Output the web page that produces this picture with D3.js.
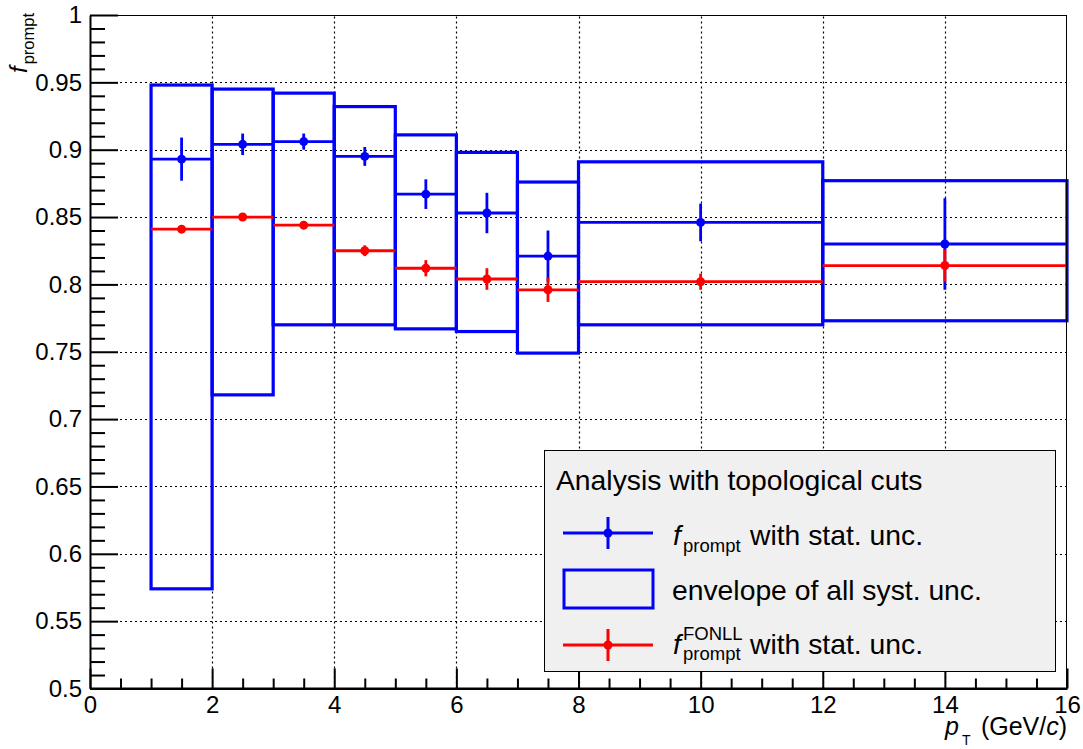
<!DOCTYPE html>
<html>
<head>
<meta charset="utf-8">
<script src="https://cdn.jsdelivr.net/npm/d3@7"></script>
<style>
  html, body { margin: 0; padding: 0; background: #fff; }
  svg { display: block; }
  text { font-family: "Liberation Sans", Arial, Helvetica, sans-serif; fill: #000; }
</style>
</head>
<body>
<svg id="chart" width="1083" height="749"></svg>
<script>
// pT bins (GeV/c)
const binLo = [1, 2, 3, 4, 5, 6, 7, 8, 12];
const binHi = [2, 3, 4, 5, 6, 7, 8, 12, 16];

// measured prompt fraction and its statistical uncertainty
const fPrompt     = [0.893, 0.904, 0.906, 0.895, 0.867, 0.853, 0.821, 0.846, 0.830];
const fPromptStat = [0.016, 0.008, 0.006, 0.007, 0.011, 0.015, 0.019, 0.014, 0.034];

// envelope of all systematic variations
const systLo = [0.574, 0.718, 0.770, 0.770, 0.767, 0.765, 0.749, 0.770, 0.773];
const systHi = [0.948, 0.945, 0.942, 0.932, 0.911, 0.898, 0.876, 0.891, 0.877];

// FONLL-based prompt fraction and its statistical uncertainty
const fFonll     = [0.841, 0.850, 0.844, 0.825, 0.812, 0.804, 0.796, 0.802, 0.814];
const fFonllStat = [0.002, 0.002, 0.003, 0.004, 0.006, 0.008, 0.009, 0.006, 0.012];

// axis ticks
const xTicks = [0, 2, 4, 6, 8, 10, 12, 14, 16];
const xTickLabels = ["0", "2", "4", "6", "8", "10", "12", "14", "16"];
const yTicks = [0.5, 0.55, 0.6, 0.65, 0.7, 0.75, 0.8, 0.85, 0.9, 0.95, 1];
const yTickLabels = ["0.5", "0.55", "0.6", "0.65", "0.7", "0.75", "0.8", "0.85", "0.9", "0.95", "1"];

const BLUE = "#0000ff", RED = "#ff0000";

const svg = d3.select("#chart");
const plotL = 90, plotR = 1067, plotT = 15, plotB = 688.5;

const x = d3.scaleLinear().domain([0, 16]).range([plotL, plotR]);
const y = d3.scaleLinear().domain([0.5, 1]).range([plotB, plotT]);

const bins = binLo.map((lo, i) => ({
  lo, hi: binHi[i], c: (lo + binHi[i]) / 2,
  f: fPrompt[i], fe: fPromptStat[i],
  sLo: systLo[i], sHi: systHi[i],
  g: fFonll[i], ge: fFonllStat[i]
}));

// ---- grid ----
const grid = svg.append("g").attr("stroke", "#000").attr("stroke-width", 1.2)
  .attr("stroke-dasharray", "2,3");
grid.selectAll("line.gx").data(xTicks.slice(1, -1)).join("line")
  .attr("x1", d => Math.round(x(d)) + 0.5).attr("x2", d => Math.round(x(d)) + 0.5)
  .attr("y1", plotB).attr("y2", plotT);
grid.selectAll("line.gy").data(yTicks.slice(1, -1)).join("line")
  .attr("y1", d => Math.round(y(d)) + 0.5).attr("y2", d => Math.round(y(d)) + 0.5)
  .attr("x1", plotL).attr("x2", plotR);

// ---- systematic envelopes ----
svg.append("g").selectAll("rect").data(bins).join("rect")
  .attr("x", d => x(d.lo)).attr("width", d => x(d.hi) - x(d.lo))
  .attr("y", d => y(d.sHi)).attr("height", d => y(d.sLo) - y(d.sHi))
  .attr("fill", "none").attr("stroke", BLUE).attr("stroke-width", 3.2);

// ---- points with horizontal bin extent and vertical stat. error ----
function drawSeries(key, errKey, color) {
  const g = svg.append("g").attr("stroke", color).attr("stroke-width", 2.8);
  g.selectAll("line.h").data(bins).join("line")
    .attr("x1", d => x(d.lo)).attr("x2", d => x(d.hi))
    .attr("y1", d => y(d[key])).attr("y2", d => y(d[key]));
  g.selectAll("line.v").data(bins).join("line")
    .attr("x1", d => x(d.c)).attr("x2", d => x(d.c))
    .attr("y1", d => y(d[key] - d[errKey])).attr("y2", d => y(d[key] + d[errKey]));
  g.selectAll("circle").data(bins).join("circle")
    .attr("cx", d => x(d.c)).attr("cy", d => y(d[key])).attr("r", 4.5)
    .attr("fill", color).attr("stroke", "none");
}
drawSeries("f", "fe", BLUE);
drawSeries("g", "ge", RED);

// ---- frame ----
svg.append("rect").attr("x", plotL + 0.5).attr("y", plotT + 0.5)
  .attr("width", plotR - plotL - 1).attr("height", plotB - plotT - 1)
  .attr("fill", "none").attr("stroke", "#000").attr("stroke-width", 1);

// ---- axes ----
const xMinor = d3.range(0, 16.01, 0.5).filter(v => v % 2 !== 0);
const yMinor = d3.range(0.5, 1.0001, 0.01).map(v => +v.toFixed(2))
  .filter(v => Math.abs(v * 20 - Math.round(v * 20)) > 1e-6);

function styleAxis(g) {
  g.select(".domain").attr("stroke", "#000").attr("stroke-width", 2);
  g.selectAll(".tick line").attr("stroke", "#000").attr("stroke-width", 2);
  g.selectAll(".tick text").attr("font-size", 24)
    .attr("font-family", "'Liberation Sans', Arial, Helvetica, sans-serif");
}

const xAxis = svg.append("g").attr("transform", `translate(0,${plotB})`)
  .call(d3.axisBottom(x).tickValues(xTicks)
    .tickFormat((d, i) => xTickLabels[i]).tickSize(-20).tickPadding(7).tickSizeOuter(0));
styleAxis(xAxis);
svg.append("g").attr("transform", `translate(0,${plotB})`)
  .call(d3.axisBottom(x).tickValues(xMinor).tickFormat("").tickSize(-10).tickSizeOuter(0))
  .call(g => { g.select(".domain").remove(); g.selectAll("line").attr("stroke", "#000").attr("stroke-width", 2); });

const yAxis = svg.append("g").attr("transform", `translate(${plotL},0)`)
  .call(d3.axisLeft(y).tickValues(yTicks)
    .tickFormat((d, i) => yTickLabels[i]).tickSize(-28).tickPadding(8).tickSizeOuter(0));
styleAxis(yAxis);
svg.append("g").attr("transform", `translate(${plotL},0)`)
  .call(d3.axisLeft(y).tickValues(yMinor).tickFormat("").tickSize(-15).tickSizeOuter(0))
  .call(g => { g.select(".domain").remove(); g.selectAll("line").attr("stroke", "#000").attr("stroke-width", 2); });

// ---- axis titles ----
const xt = svg.append("text").attr("x", 945).attr("y", 735).attr("font-size", 25);
xt.append("tspan").attr("font-style", "italic").text("p");
xt.append("tspan").attr("x", 962).attr("y", 745).attr("font-size", 14).text("T");
const xu = svg.append("text").attr("x", plotR).attr("y", 735)
  .attr("text-anchor", "end").attr("font-size", 25);
xu.append("tspan").text("(GeV/");
xu.append("tspan").attr("font-style", "italic").text("c");
xu.append("tspan").text(")");

const yt = svg.append("text").attr("transform", "translate(27,13) rotate(-90)")
  .attr("text-anchor", "end").attr("font-size", 24);
yt.append("tspan").attr("font-style", "italic").text("f");
yt.append("tspan").attr("font-size", 16.5).attr("dy", 7).attr("dx", 2).text("prompt");

// ---- legend ----
const LF = 28.3, LS = 18.5;
const lg = svg.append("g");
lg.append("rect").attr("x", 544.5).attr("y", 450.5).attr("width", 511).attr("height", 221)
  .attr("fill", "#f0f0f0").attr("stroke", "#000").attr("stroke-width", 1);
lg.append("text").attr("x", 556).attr("y", 490).attr("font-size", LF)
  .text("Analysis with topological cuts");

function legendMarker(cy, color) {
  lg.append("line").attr("x1", 563).attr("x2", 653).attr("y1", cy).attr("y2", cy)
    .attr("stroke", color).attr("stroke-width", 3);
  lg.append("line").attr("x1", 608).attr("x2", 608).attr("y1", cy - 16).attr("y2", cy + 16)
    .attr("stroke", color).attr("stroke-width", 3);
  lg.append("circle").attr("cx", 608).attr("cy", cy).attr("r", 4.5).attr("fill", color);
}
legendMarker(533, BLUE);
legendMarker(645, RED);
lg.append("rect").attr("x", 564).attr("y", 570).attr("width", 89).attr("height", 38)
  .attr("fill", "none").attr("stroke", BLUE).attr("stroke-width", 3);

const t1 = lg.append("text").attr("font-size", LF);
t1.append("tspan").attr("x", 673).attr("y", 545).attr("font-style", "italic").text("f");
t1.append("tspan").attr("x", 683).attr("y", 552).attr("font-size", LS).text("prompt");
t1.append("tspan").attr("x", 750).attr("y", 545).text("with stat. unc.");

lg.append("text").attr("x", 672).attr("y", 600).attr("font-size", LF)
  .text("envelope of all syst. unc.");

const t3 = lg.append("text").attr("font-size", LF);
t3.append("tspan").attr("x", 673).attr("y", 654).attr("font-style", "italic").text("f");
t3.append("tspan").attr("x", 683).attr("y", 640).attr("font-size", LS).text("FONLL");
t3.append("tspan").attr("x", 683).attr("y", 660).attr("font-size", LS).text("prompt");
t3.append("tspan").attr("x", 750).attr("y", 654).text("with stat. unc.");
</script>
</body>
</html>
